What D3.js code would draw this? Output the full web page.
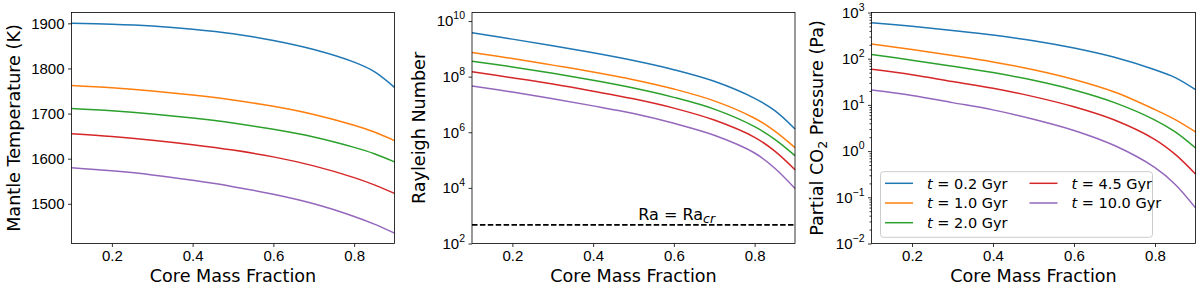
<!DOCTYPE html>
<html>
<head>
<meta charset="utf-8">
<script src="https://cdn.jsdelivr.net/npm/d3@7"></script>
<style>
  body { margin: 0; background: #fff; }
  svg { font-family: "DejaVu Sans", sans-serif; }
  .domain { display: none; }
  .tick line { stroke: #000; stroke-width: 0.8; }
  .tick text { fill: #000; font-size: 15px; }
</style>
</head>
<body>
<div id="chart"></div>
<script>
var cmf = [0.1, 0.2, 0.3, 0.4, 0.5, 0.6, 0.7, 0.8, 0.85, 0.9];
var times = ['0.2', '1.0', '2.0', '4.5', '10.0'];
var colors = ['#1f77b4', '#ff7f0e', '#2ca02c', '#d62728', '#9467bd'];

// mantle temperature (K)
var temp_t02 = [1900, 1898, 1894, 1887, 1877, 1862, 1842, 1814, 1793, 1758];
var temp_t10 = [1762, 1757, 1750, 1741, 1730, 1716, 1698, 1674, 1659, 1640];
var temp_t20 = [1711, 1706, 1699, 1690, 1679, 1665, 1648, 1625, 1611, 1593];
var temp_t45 = [1655, 1649, 1641, 1631, 1619, 1604, 1584, 1558, 1542, 1523];
var temp_t100 = [1580, 1573, 1564, 1552, 1538, 1521, 1500, 1472, 1455, 1435];

// rayleigh number
var ra_t02 = [3.8e9, 2.24e9, 1.29e9, 7.2e8, 3.8e8, 1.78e8, 6.8e7, 1.66e7, 6.0e6, 1.32e6];
var ra_t10 = [7.4e8, 4.5e8, 2.6e8, 1.48e8, 7.8e7, 3.6e7, 1.35e7, 3.2e6, 1.1e6, 2.8e5];
var ra_t20 = [3.6e8, 2.24e8, 1.32e8, 7.4e7, 3.9e7, 1.8e7, 6.8e6, 1.6e6, 5.6e5, 1.45e5];
var ra_t45 = [1.5e8, 9.1e7, 5.4e7, 3.0e7, 1.6e7, 7.4e6, 2.75e6, 6.6e5, 2.1e5, 4.5e4];
var ra_t100 = [4.6e7, 2.8e7, 1.6e7, 8.9e6, 4.7e6, 2.1e6, 7.8e5, 1.8e5, 5.1e4, 9.5e3];
var ra_crit = 470;

// partial CO2 pressure (Pa)
var pco2_t02 = [603, 501, 407, 324, 245, 170, 107, 57.5, 39, 21.4];
var pco2_t10 = [209, 158, 117, 85, 57.5, 35.5, 19, 7.9, 4.8, 2.6];
var pco2_t20 = [123, 93, 69, 50, 34, 21, 11.2, 4.7, 2.6, 1.17];
var pco2_t45 = [59, 45, 32, 23, 15.1, 9.1, 4.7, 1.78, 0.85, 0.32];
var pco2_t100 = [21, 16, 11.2, 7.8, 4.9, 2.8, 1.32, 0.44, 0.19, 0.059];

var x_ticks = [0.2, 0.4, 0.6, 0.8];
var temp_ticks = [1500, 1600, 1700, 1800, 1900];
var ra_ticks = [1e2, 1e4, 1e6, 1e8, 1e10];
var pco2_ticks = [1e-2, 1e-1, 1e0, 1e1, 1e2, 1e3];

var width = 1200, height = 286;
var plot_top = 12.5, ph = 231;

var svg = d3.select('#chart').append('svg')
  .attr('width', width)
  .attr('height', height);

function sup_label(sel) {
  sel.each(function(d) {
    var t = d3.select(this);
    t.text('');
    t.append('tspan').text('10');
    var e = Math.round(Math.log10(d));
    t.append('tspan')
      .attr('dy', -7)
      .style('font-size', '10.5px')
      .text(e < 0 ? '\u2212' + (-e) : e);
  });
}

function panel(opts) {
  var g = svg.append('g').attr('transform', 'translate(' + opts.left + ',' + plot_top + ')');
  var x = d3.scaleLinear().domain([0.1, 0.9]).range([0, opts.w]);
  var y = opts.y.range([ph, 0]);

  var line = d3.line()
    .x(function(d) { return x(d[0]); })
    .y(function(d) { return y(d[1]); })
    .curve(d3.curveCatmullRom.alpha(0.5));

  g.selectAll('path.series')
    .data(opts.series)
    .enter().append('path')
    .attr('class', 'series')
    .attr('d', function(s) { return line(d3.zip(cmf, s)); })
    .style('fill', 'none')
    .style('stroke', function(s, i) { return colors[i]; })
    .style('stroke-width', 1.5);

  if (opts.extra) opts.extra(g, x, y);

  // minor ticks
  if (opts.minor) {
    g.append('g')
      .call(d3.axisLeft(y).tickValues(opts.minor).tickSize(2).tickFormat(''));
  }

  g.append('g')
    .attr('transform', 'translate(0,' + ph + ')')
    .call(d3.axisBottom(x).tickValues(x_ticks).tickSize(3.5).tickPadding(3.5).tickFormat(d3.format('.1f')));

  var ya = g.append('g')
    .call(d3.axisLeft(y).tickValues(opts.ticks).tickSize(3.5).tickPadding(3.5).tickFormat(d3.format('d')));
  if (opts.log) {
    ya.selectAll('.tick text').call(sup_label);
  }

  g.append('rect')
    .attr('width', opts.w)
    .attr('height', ph)
    .style('fill', 'none')
    .style('stroke', '#000')
    .style('stroke-width', 0.8);

  g.append('text')
    .attr('x', opts.w / 2)
    .attr('y', 269)
    .style('text-anchor', 'middle')
    .style('font-size', '17.6px')
    .text('Core Mass Fraction');

  var yl = g.append('text')
    .attr('transform', 'translate(' + opts.ylab_x + ',' + (ph / 2) + ') rotate(-90)')
    .style('text-anchor', 'middle')
    .style('font-size', '17.6px');
  opts.ylabel(yl);

  return g;
}

// left
panel({
  left: 71.5, w: 323,
  y: d3.scaleLinear().domain([1412, 1924]),
  ticks: temp_ticks,
  series: [temp_t02, temp_t10, temp_t20, temp_t45, temp_t100],
  ylab_x: -52,
  ylabel: function(t) { t.text('Mantle Temperature (K)'); }
});

// middle
panel({
  left: 472, w: 323,
  y: d3.scaleLog().domain([1e2, 2.03e10]),
  log: true,
  ticks: ra_ticks,
  series: [ra_t02, ra_t10, ra_t20, ra_t45, ra_t100],
  ylab_x: -47,
  ylabel: function(t) { t.text('Rayleigh Number'); },
  extra: function(g, x, y) {
    g.append('line')
      .attr('x1', 0).attr('x2', x(0.9))
      .attr('y1', y(ra_crit)).attr('y2', y(ra_crit))
      .style('stroke', '#000')
      .style('stroke-width', 1.7)
      .style('stroke-dasharray', '5.5,2.4');
    var t = g.append('text')
      .attr('x', x(0.607))
      .attr('y', y(ra_crit) - 5)
      .style('text-anchor', 'middle')
      .style('font-size', '16px');
    t.append('tspan').text('Ra = Ra');
    t.append('tspan').attr('dy', 3).style('font-size', '12.5px').style('font-style', 'italic').text('cr');
  }
});

// right
var pco2_minor = [];
pco2_ticks.slice(0, -1).forEach(function(d) {
  for (var k = 2; k < 10; k++) pco2_minor.push(d * k);
});

var right = panel({
  left: 871.5, w: 324,
  y: d3.scaleLog().domain([1e-2, 1e3]),
  log: true,
  ticks: pco2_ticks,
  minor: pco2_minor,
  series: [pco2_t02, pco2_t10, pco2_t20, pco2_t45, pco2_t100],
  ylab_x: -48.5,
  ylabel: function(t) {
    t.append('tspan').text('Partial CO');
    t.append('tspan').attr('dy', 4).style('font-size', '12.5px').text('2');
    t.append('tspan').attr('dy', -4).text(' Pressure (Pa)');
  }
});

// legend
var legend = right.append('g').attr('transform', 'translate(9,' + (171.7 - plot_top) + ')');
legend.append('rect')
  .attr('width', 272).attr('height', 65.6)
  .attr('rx', 3)
  .style('fill', '#fff')
  .style('fill-opacity', 0.8)
  .style('stroke', '#ccc')
  .style('stroke-width', 1);

var items = legend.selectAll('g.item')
  .data(times)
  .enter().append('g')
  .attr('class', 'item')
  .attr('transform', function(d, i) {
    var col = i < 3 ? 0 : 1;
    var row = i < 3 ? i : i - 3;
    return 'translate(' + (4.5 + col * 144.5) + ',' + (11.6 + row * 19.7) + ')';
  });

items.append('line')
  .attr('x1', 0).attr('x2', 28)
  .style('stroke', function(d, i) { return colors[i]; })
  .style('stroke-width', 1.5);

var lt = items.append('text')
  .attr('x', 42)
  .attr('y', 5.2)
  .style('font-size', '14.5px');
lt.append('tspan').style('font-style', 'italic').text('t');
lt.append('tspan').text(function(d) { return ' = ' + d + ' Gyr'; });
</script>
</body>
</html>
